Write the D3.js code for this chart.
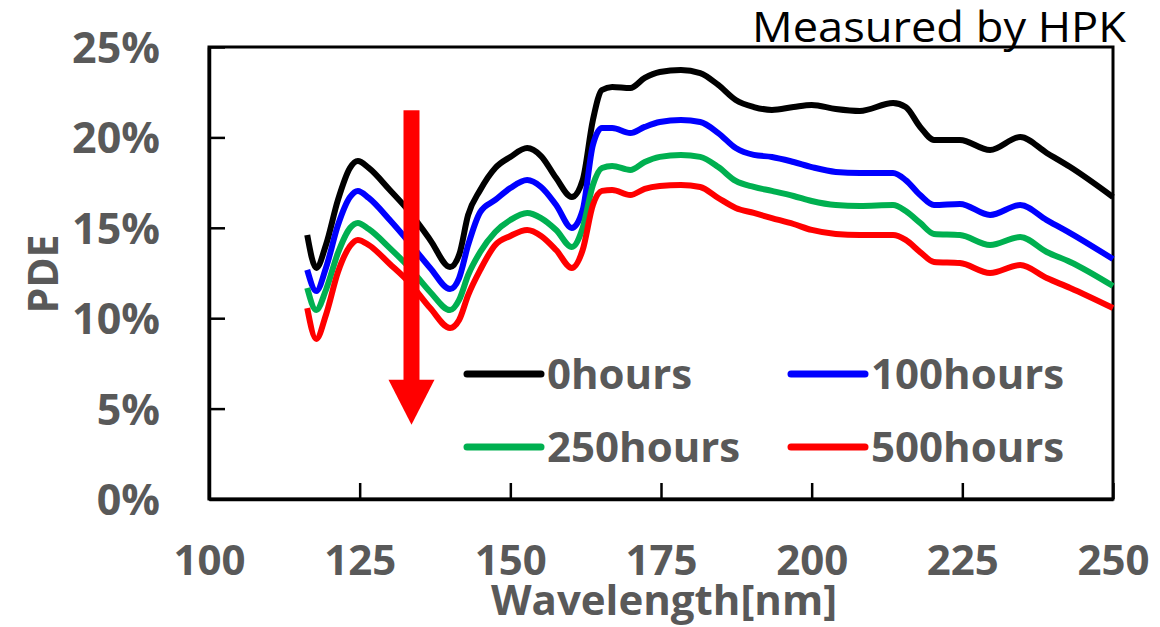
<!DOCTYPE html>
<html>
<head>
<meta charset="utf-8">
<script src="https://cdn.jsdelivr.net/npm/d3@7"></script>
<style>
  html, body { margin: 0; padding: 0; background: #ffffff; }
  svg { display: block; }
  .tick text { font-family: "Open Sans", sans-serif; font-weight: 700; fill: #595959; }
</style>
</head>
<body>
<svg id="chart" width="1160" height="627"></svg>
<script>
// Wavelength sampling points [nm]
const wavelengths = [
  116.3, 117.8, 119.4, 121.4, 123.4, 124.7, 126.5, 130, 133.3, 136.7,
  140, 141.5, 143, 145, 147.5, 150, 152.8, 155.1, 157.6, 160.2,
  162, 163.7, 165.2, 166.9, 169.9, 172.3, 174.8, 178.3, 181.5, 184.5,
  187.4, 190.4, 193.4, 197, 200, 204, 208, 213.5, 215.6, 218,
  220.3, 224.6, 229.6, 234.6, 239, 242.9, 250
];

// PDE [%] after each exposure time
const pde0h = [
  14.60, 12.78, 14.05, 16.54, 18.31, 18.69, 18.31, 17.09, 15.87, 14.33,
  12.83, 13.50, 15.71, 17.09, 18.31, 18.92, 19.41, 18.97, 17.75, 16.70,
  17.64, 20.96, 22.62, 22.79, 22.73, 23.29, 23.62, 23.73, 23.56, 22.90,
  22.07, 21.68, 21.52, 21.68, 21.79, 21.57, 21.46, 21.90, 21.68, 20.58,
  19.86, 19.86, 19.30, 20.02, 19.14, 18.36, 16.70
];
const pde100h = [
  12.67, 11.50, 12.78, 15.15, 16.70, 17.04, 16.65, 15.43, 14.16, 12.78,
  11.61, 12.22, 14.05, 15.87, 16.54, 17.20, 17.64, 17.26, 16.26, 14.99,
  15.98, 19.58, 20.52, 20.52, 20.24, 20.58, 20.85, 20.96, 20.85, 20.24,
  19.41, 19.03, 18.92, 18.64, 18.36, 18.09, 18.03, 18.03, 17.64, 16.81,
  16.26, 16.32, 15.71, 16.26, 15.43, 14.71, 13.27
];
const pde250h = [
  11.67, 10.45, 11.56, 13.61, 14.99, 15.27, 14.93, 13.88, 12.78, 11.45,
  10.45, 11.01, 12.39, 13.66, 14.77, 15.43, 15.82, 15.54, 14.88, 13.94,
  14.99, 17.37, 18.31, 18.42, 18.20, 18.64, 18.92, 19.03, 18.92, 18.36,
  17.59, 17.26, 17.04, 16.76, 16.48, 16.26, 16.21, 16.26, 15.93, 15.27,
  14.66, 14.60, 14.05, 14.49, 13.66, 13.11, 11.78
];
const pde500h = [
  10.56, 8.85, 10.18, 12.56, 13.99, 14.33, 14.05, 13.00, 11.95, 10.56,
  9.46, 9.90, 11.28, 12.67, 14.05, 14.55, 14.88, 14.55, 13.77, 12.78,
  13.77, 16.26, 17.04, 17.09, 16.81, 17.15, 17.31, 17.37, 17.26, 16.65,
  16.10, 15.82, 15.54, 15.21, 14.88, 14.66, 14.60, 14.60, 14.33, 13.66,
  13.11, 13.05, 12.50, 12.94, 12.22, 11.67, 10.56
];

const seriesNames  = ["0hours", "100hours", "250hours", "500hours"];
const seriesColors = ["#000000", "#0000ff", "#00b050", "#ff0000"];
const seriesValues = [pde0h, pde100h, pde250h, pde500h];

const xTickValues = [100, 125, 150, 175, 200, 225, 250];
const yTickValues = [0, 5, 10, 15, 20, 25];

// Degradation arrow: wavelength and PDE span it covers
const arrowWavelength = 133.6;
const arrowFrom = 21.5;
const arrowHeadBase = 6.6;
const arrowTo = 4.1;

const svg = d3.select("#chart");
svg.append("rect").attr("width", 1160).attr("height", 627).attr("fill", "#ffffff");

const plot = { left: 209, right: 1113, top: 47, bottom: 499 };

const x = d3.scaleLinear().domain([100, 250]).range([plot.left, plot.right]);
const y = d3.scaleLinear().domain([0, 25]).range([plot.bottom, plot.top]);

// Plot frame (top and right edges)
svg.append("rect")
  .attr("x", plot.left).attr("y", plot.top)
  .attr("width", plot.right - plot.left).attr("height", plot.bottom - plot.top)
  .attr("fill", "none").attr("stroke", "#000").attr("stroke-width", 3);

// Axes with inward ticks
const yAxis = svg.append("g")
  .attr("transform", `translate(${plot.left},0)`)
  .call(d3.axisLeft(y).tickValues(yTickValues).tickFormat(d => d + "%")
    .tickSizeInner(-16).tickSizeOuter(0).tickPadding(49));
yAxis.selectAll("text").style("font-size", "43px").attr("dy", "0.36em");

const xAxis = svg.append("g")
  .attr("transform", `translate(0,${plot.bottom})`)
  .call(d3.axisBottom(x).tickValues(xTickValues).tickFormat(d3.format("d"))
    .tickSizeInner(-16).tickSizeOuter(0).tickPadding(46));
xAxis.selectAll("text").style("font-size", "42px");

[yAxis, xAxis].forEach(ax => {
  ax.select(".domain").attr("stroke", "#000").attr("stroke-width", 3.5);
  ax.selectAll(".tick line").attr("stroke", "#000").attr("stroke-width", 2.5);
});

// Axis titles
svg.append("text")
  .attr("x", 664).attr("y", 615)
  .attr("text-anchor", "middle")
  .style("font-family", "'Open Sans', sans-serif").style("font-weight", 700)
  .style("font-size", "42px").attr("fill", "#595959")
  .text("Wavelength[nm]");

svg.append("text")
  .attr("transform", "translate(58,274) rotate(-90)")
  .attr("text-anchor", "middle")
  .style("font-family", "'Open Sans', sans-serif").style("font-weight", 700)
  .style("font-size", "41px").attr("fill", "#595959")
  .text("PDE");

svg.append("text")
  .attr("x", 1126).attr("y", 42)
  .attr("text-anchor", "end")
  .attr("textLength", 374).attr("lengthAdjust", "spacingAndGlyphs")
  .style("font-family", "'Open Sans', sans-serif").style("font-weight", 400)
  .style("font-size", "42px").attr("fill", "#000")
  .text("Measured by HPK");

// PDE curves
const line = d3.line()
  .x(d => x(d[0]))
  .y(d => y(d[1]))
  .curve(d3.curveMonotoneX);

seriesValues.forEach((vals, i) => {
  const pts = wavelengths.map((w, j) => [w, vals[j]]);
  svg.append("path")
    .datum(pts)
    .attr("d", line)
    .attr("fill", "none")
    .attr("stroke", seriesColors[i])
    .attr("stroke-width", 6)
    .attr("stroke-linejoin", "round");
});

// Red arrow showing the decrease with exposure time
const ax0 = x(arrowWavelength);
svg.append("rect")
  .attr("x", ax0 - 8).attr("y", y(arrowFrom))
  .attr("width", 16).attr("height", y(arrowHeadBase) - y(arrowFrom) + 1)
  .attr("fill", "#ff0000");
svg.append("path")
  .attr("d", `M${ax0 - 23},${y(arrowHeadBase)} L${ax0 + 23},${y(arrowHeadBase)} L${ax0},${y(arrowTo)} Z`)
  .attr("fill", "#ff0000");

// Legend (2 x 2)
const legendPos = [
  { lx: 467, ly: 374 },
  { lx: 791, ly: 374 },
  { lx: 467, ly: 447 },
  { lx: 791, ly: 447 }
];
const legend = svg.append("g");
seriesNames.forEach((name, i) => {
  const p = legendPos[i];
  legend.append("line")
    .attr("x1", p.lx).attr("x2", p.lx + 74)
    .attr("y1", p.ly).attr("y2", p.ly)
    .attr("stroke", seriesColors[i]).attr("stroke-width", 7)
    .attr("stroke-linecap", "round");
  legend.append("text")
    .attr("x", p.lx + 80).attr("y", p.ly + 15)
    .style("font-family", "'Open Sans', sans-serif").style("font-weight", 700)
    .style("font-size", "42px").attr("fill", "#595959")
    .text(name);
});
</script>
</body>
</html>
